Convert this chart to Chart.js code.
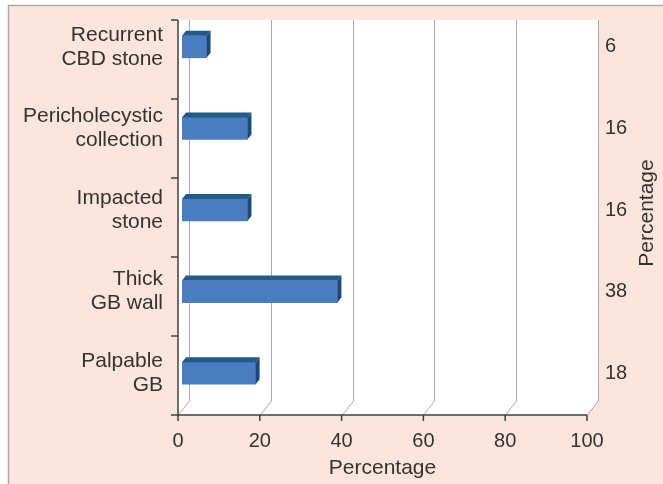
<!DOCTYPE html>
<html>
<head>
<meta charset="utf-8">
<script src="https://cdn.jsdelivr.net/npm/chart.js@4"></script>
<style>
  html, body { margin: 0; padding: 0; background: #fff; }
  #wrap { width: 663px; height: 484px; }
</style>
</head>
<body>
<div id="wrap"><canvas id="chart" width="663" height="484"></canvas></div>
<script>
const categories = [
    ['Recurrent', 'CBD stone'],
    ['Pericholecystic', 'collection'],
    ['Impacted', 'stone'],
    ['Thick', 'GB wall'],
    ['Palpable', 'GB']
];
const percentages = [6, 16, 16, 38, 18];
const valueLabels = ['6', '16', '16', '38', '18'];
const xTicks = [0, 20, 40, 60, 80, 100];

const pink = '#fce5dc';
const textColor = '#333333';
const family = 'Liberation Sans, Arial, sans-serif';
const labelFont = { family: family, size: 21, lineHeight: 1.15 };
const numberFont = { family: family, size: 20, lineHeight: 1.2 };

// depth of the 3d walls and of the bars
const wallDx = 11, wallDy = -14;
const barDx = 4, barDy = -5;
const wallTop = 20;

function noEdgePadding(scale) {
    scale.paddingTop = 0;
    scale.paddingBottom = 0;
}

const backdrop = {
    id: 'backdrop',
    beforeDraw(chart) {
        const ctx = chart.ctx;
        const xs = chart.scales.x;
        const area = chart.chartArea;
        const floorY = area.bottom + 1;
        const left = xs.getPixelForValue(0);
        const right = xs.getPixelForValue(100);

        ctx.save();
        ctx.fillStyle = '#fff';
        ctx.fillRect(0, 0, chart.width, chart.height);
        ctx.fillStyle = pink;
        ctx.fillRect(8, 5, chart.width - 8, chart.height - 5);
        ctx.strokeStyle = '#a9a9a9';
        ctx.lineWidth = 1.5;
        ctx.beginPath();
        ctx.moveTo(8.5, chart.height);
        ctx.lineTo(8.5, 5.5);
        ctx.lineTo(chart.width, 5.5);
        ctx.stroke();

        // plot walls
        ctx.fillStyle = '#fff';
        ctx.beginPath();
        ctx.moveTo(left, wallTop);
        ctx.lineTo(right + wallDx, wallTop);
        ctx.lineTo(right + wallDx, floorY + wallDy);
        ctx.lineTo(right, floorY);
        ctx.lineTo(left, floorY);
        ctx.closePath();
        ctx.fill();

        // gridlines on back wall and floor
        ctx.strokeStyle = '#a9a9b0';
        ctx.lineWidth = 1;
        xTicks.forEach(v => {
            const px = Math.round(xs.getPixelForValue(v)) + 0.5;
            ctx.beginPath();
            ctx.moveTo(px + wallDx, wallTop);
            ctx.lineTo(px + wallDx, floorY + wallDy);
            ctx.lineTo(px, floorY);
            ctx.stroke();
        });

        // axis lines
        ctx.strokeStyle = '#404040';
        ctx.lineWidth = 1.5;
        ctx.beginPath();
        ctx.moveTo(left - 7, floorY);
        ctx.lineTo(right, floorY);
        ctx.moveTo(left, wallTop);
        ctx.lineTo(left, floorY + 6);
        xTicks.forEach(v => {
            const px = xs.getPixelForValue(v);
            ctx.moveTo(px, floorY);
            ctx.lineTo(px, floorY + 6);
        });
        const n = categories.length;
        for (let i = 0; i <= n; i++) {
            const py = wallTop + (floorY - wallTop) * i / n;
            ctx.moveTo(left - 7, py);
            ctx.lineTo(left, py);
        }
        ctx.stroke();
        ctx.restore();
    },
    beforeDatasetsDraw(chart) {
        chart.ctx.save();
        chart.ctx.translate(barDx, 0);
    },
    afterDatasetsDraw(chart) {
        const ctx = chart.ctx;
        chart.getDatasetMeta(0).data.forEach(bar => {
            const top = bar.y - bar.height / 2;
            const bottom = bar.y + bar.height / 2;
            // top face
            ctx.fillStyle = '#235a8c';
            ctx.beginPath();
            ctx.moveTo(bar.base, top);
            ctx.lineTo(bar.base + barDx, top + barDy);
            ctx.lineTo(bar.x + barDx, top + barDy);
            ctx.lineTo(bar.x, top);
            ctx.closePath();
            ctx.fill();
            // side face
            ctx.fillStyle = '#1b4a78';
            ctx.beginPath();
            ctx.moveTo(bar.x, top);
            ctx.lineTo(bar.x + barDx, top + barDy);
            ctx.lineTo(bar.x + barDx, bottom + barDy);
            ctx.lineTo(bar.x, bottom);
            ctx.closePath();
            ctx.fill();
        });
        ctx.restore();
    },
    afterDraw(chart) {
        const ctx = chart.ctx;
        ctx.save();
        ctx.fillStyle = textColor;
        ctx.font = labelFont.size + 'px ' + family;
        ctx.textAlign = 'center';
        ctx.textBaseline = 'middle';
        ctx.translate(647, 213);
        ctx.rotate(-Math.PI / 2);
        ctx.fillText('Percentage', 0, 0);
        ctx.restore();
    }
};

new Chart(document.getElementById('chart'), {
    type: 'bar',
    data: {
        labels: categories,
        datasets: [{
            data: percentages,
            backgroundColor: '#4a7dbf',
            borderWidth: 0,
            barThickness: 22,
            yAxisID: 'y'
        }]
    },
    options: {
        indexAxis: 'y',
        responsive: false,
        animation: false,
        layout: { padding: { left: 0, right: 0, top: 6, bottom: 0 } },
        plugins: {
            legend: { display: false },
            tooltip: { enabled: false }
        },
        scales: {
            x: {
                type: 'linear',
                min: 0,
                max: 100,
                afterBuildTicks(scale) {
                    scale.ticks = xTicks.map(v => ({ value: v }));
                },
                afterFit(scale) {
                    scale.height = 70;
                    scale.paddingLeft = 0;
                    scale.paddingRight = 0;
                },
                grid: { display: false, drawTicks: false },
                border: { display: false },
                ticks: { color: textColor, font: numberFont, padding: 15, maxRotation: 0 },
                title: {
                    display: true,
                    text: 'Percentage',
                    color: textColor,
                    font: labelFont,
                    padding: { top: 0, bottom: 4 }
                }
            },
            y: {
                position: 'left',
                offset: true,
                afterFit(scale) {
                    scale.width = 178;
                    noEdgePadding(scale);
                },
                grid: { display: false, drawTicks: false },
                border: { display: false },
                ticks: { color: textColor, font: labelFont, padding: 15 }
            },
            y2: {
                type: 'category',
                labels: valueLabels,
                position: 'right',
                offset: true,
                afterFit(scale) {
                    scale.width = 76;
                    noEdgePadding(scale);
                },
                grid: { display: false, drawTicks: false },
                border: { display: false },
                ticks: { color: textColor, font: numberFont, padding: 18 }
            }
        }
    },
    plugins: [backdrop]
});
</script>
</body>
</html>
